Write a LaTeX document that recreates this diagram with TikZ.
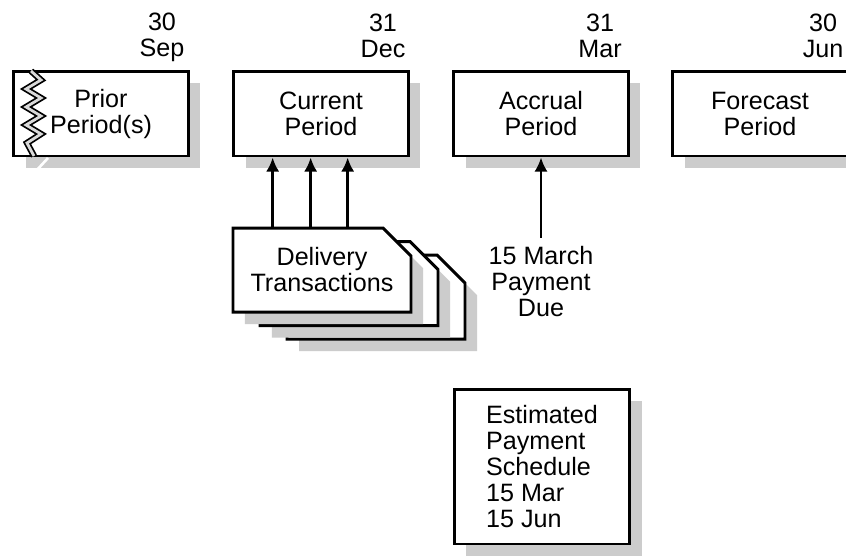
\documentclass[tikz,border=0pt]{standalone}
\usepackage{fontspec}
\setmainfont{Liberation Sans}
\usetikzlibrary{arrows.meta, shadows}

\begin{document}
\begin{tikzpicture}[
    x=0.02cm, y=-0.02cm,
    every node/.style={font=\fontsize{14.3}{14.8}\selectfont, inner sep=0pt},
    shade/.style={drop shadow={shadow xshift=0.24cm, shadow yshift=-0.24cm, fill=black!20, opacity=1}},
    period/.style={draw, line width=1.7pt, fill=white, shade, align=center, minimum width=3.5cm, minimum height=1.7cm},
    card/.style={draw, line width=1.7pt, fill=white, shade, line join=miter},
    datelbl/.style={align=center},
    arr/.style={-{Latex[length=8pt, width=7.5pt]}, line width=1.5pt}
]
    \useasboundingbox (0,0) rectangle (846,559);
    \fill[white] (0,0) rectangle (846,559);
    \clip (0,0) rectangle (846,559);

    % period boxes along the top
    \node[period] (prior) at (101,113.5) {Prior\\Period(s)};
    \node[period] (cur) at (321,113.5) {Current\\Period};
    \node[period] (acc) at (541,113.5) {Accrual\\Period};
    \node[period] (fc) at (760,113.5) {Forecast\\Period};

    % break mark on the prior period
    \draw[white, line width=1.5pt] (36,171) -- (48,158);
    \draw[line width=1pt, double=black!15, double distance=1.6pt, line join=miter]
        (31,71) -- (41,80) -- (26,89) -- (41,98) -- (26,107) -- (41,116)
        -- (26,125) -- (41,134) -- (27,143) -- (34,156);

    % period end dates
    \node[datelbl] (dsep) at (162,37) {30\\Sep};
    \node[datelbl] (ddec) at (383,36) {31\\Dec};
    \node[datelbl] (dmar) at (600,36) {31\\Mar};
    \node[datelbl] (djun) at (823,36) {30\\Jun};

    % stack of delivery transactions
    \foreach \dx/\dy in {54/27, 27/13.5, 0/0}
        \draw[card] (233+\dx,228+\dy) -- ++(150,0) -- ++(28,28) -- ++(0,56) -- ++(-178,0) -- cycle;
    \node[align=center, minimum width=3.56cm, minimum height=1.68cm] (dt) at (322,270) {Delivery\\Transactions};

    \foreach \dx in {40,78,115} {
        \path (dt.north west) ++(\dx,0) coordinate (t);
        \draw[arr] (t) -- (t |- cur.south);
    }

    % payment due into the accrual period
    \node[align=center, inner sep=5pt] (pay) at (541,282) {15 March\\Payment\\Due};
    \draw[arr] (pay.north) -- (pay.north |- acc.south);

    \node[period, align=left, minimum width=3.52cm, minimum height=3.1cm] (est) at (542,466.5)
        {Estimated\\Payment\\Schedule\\15 Mar\\15 Jun};
\end{tikzpicture}
\end{document}
